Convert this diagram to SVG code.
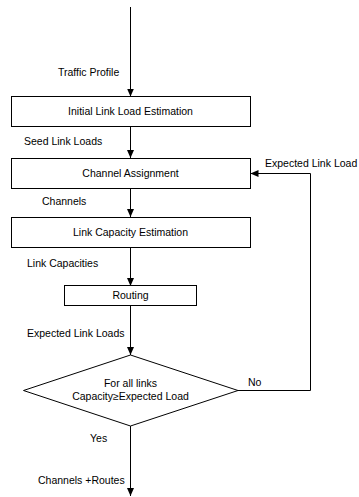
<svg xmlns="http://www.w3.org/2000/svg" width="359" height="497" viewBox="0 0 359 497">
<style>
.n{fill:#fff;stroke:#000;stroke-width:1}
.c{fill:none;stroke:#000;stroke-width:1}
text{font-family:"Liberation Sans",Arial,sans-serif;font-size:10.5px;fill:#000}
.m{text-anchor:middle}
</style>
<defs>
<marker id="a" viewBox="0 0 8 8" refX="8" refY="4" markerWidth="8" markerHeight="8" markerUnits="userSpaceOnUse" orient="auto">
<path d="M0,0.5 L8,4 L0,7.5 Z" fill="#000"/>
</marker>
</defs>
<rect width="359" height="497" fill="#fff"/>
<g id="connectors">
<line class="c" x1="130.5" y1="7" x2="130.5" y2="96.5" marker-end="url(#a)"/>
<line class="c" x1="130.5" y1="127" x2="130.5" y2="158" marker-end="url(#a)"/>
<line class="c" x1="130.5" y1="188" x2="130.5" y2="217" marker-end="url(#a)"/>
<line class="c" x1="130.5" y1="247" x2="130.5" y2="286" marker-end="url(#a)"/>
<line class="c" x1="130.5" y1="306" x2="130.5" y2="355" marker-end="url(#a)"/>
<polyline class="c" points="238,390.5 310.5,390.5 310.5,173.5 250.5,173.5" marker-end="url(#a)"/>
<line class="c" x1="130.5" y1="426" x2="130.5" y2="496" marker-end="url(#a)"/>
<text x="58" y="76">Traffic Profile</text>
<text x="24" y="145">Seed Link Loads</text>
<text x="265" y="167">Expected Link Load</text>
<text x="42" y="205">Channels</text>
<text x="27" y="267">Link Capacities</text>
<text x="27" y="337">Expected Link Loads</text>
<text x="248" y="386">No</text>
<text x="90" y="442">Yes</text>
<text x="38" y="484">Channels +Routes</text>
</g>
<g id="init">
<rect class="n" x="11.5" y="96.5" width="239" height="30"/>
<text class="m" x="130.5" y="115">Initial Link Load Estimation</text>
</g>
<g id="chan">
<rect class="n" x="11.5" y="158.5" width="239" height="30"/>
<text class="m" x="130.5" y="177">Channel Assignment</text>
</g>
<g id="cap">
<rect class="n" x="11.5" y="217.5" width="239" height="30"/>
<text class="m" x="130.5" y="236">Link Capacity Estimation</text>
</g>
<g id="routing">
<rect class="n" x="64.5" y="285.5" width="132" height="20"/>
<text class="m" x="130.5" y="299">Routing</text>
</g>
<g id="decision">
<polygon class="n" points="130.5,355 238,390.5 130.5,426 23.5,390.5"/>
<text class="m" x="130.5" y="387">For all links</text>
<text class="m" x="130.5" y="400">Capacity≥Expected Load</text>
</g>
</svg>
